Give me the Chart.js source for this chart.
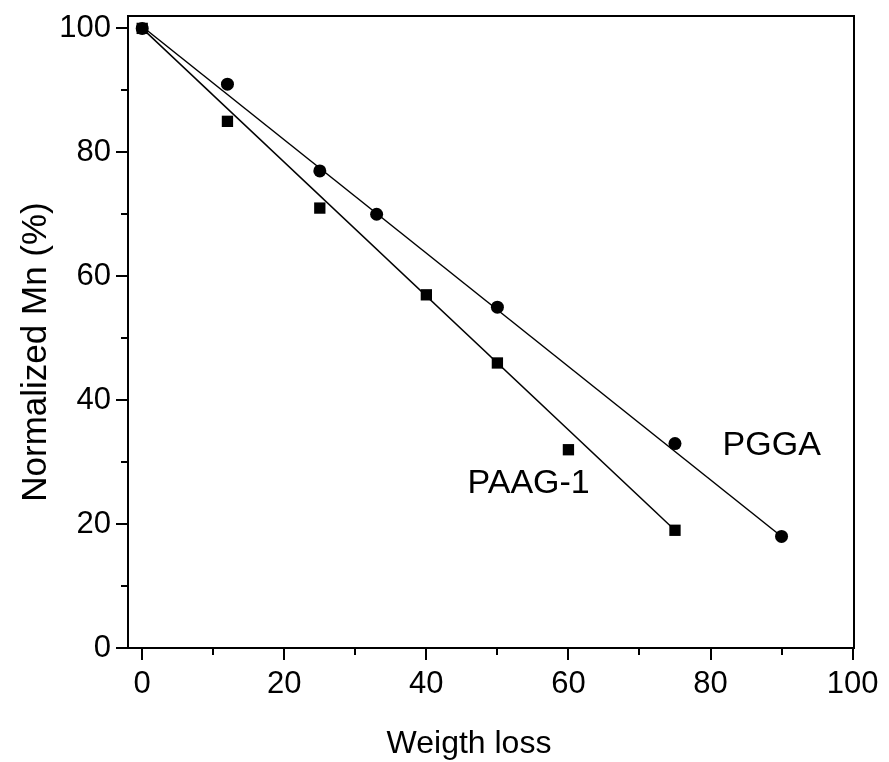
<!DOCTYPE html>
<html>
<head>
<meta charset="utf-8">
<script src="https://cdn.jsdelivr.net/npm/chart.js@4.4.1/dist/chart.umd.min.js"></script>
<style>
  html, body { margin: 0; padding: 0; background: #fff; }
  #wrap { width: 889px; height: 762px; position: relative; }
</style>
</head>
<body>
<div id="wrap"><canvas id="mnChart"></canvas></div>
<script>
// Dados
const weightLossPAAG = [0, 12, 25, 40, 50, 60, 75];
const mnPAAG = [100, 85, 71, 57, 46, 32, 19];
const weightLossPGGA = [0, 12, 25, 33, 50, 75, 90];
const mnPGGA = [100, 91, 77, 70, 55, 33, 18];

// Retas ajustadas (extremos)
const fitPAAGx = [0, 75];
const fitPAAGy = [100, 19];
const fitPGGAx = [0, 90];
const fitPGGAy = [100.3, 18];

// Eixos
const xTicks = [0, 20, 40, 60, 80, 100];
const xMinorTicks = [10, 30, 50, 70, 90];
const yTicks = [0, 20, 40, 60, 80, 100];
const yMinorTicks = [10, 30, 50, 70, 90];

// Rótulos das séries (posição em unidades dos dados)
const seriesLabels = ['PAAG-1', 'PGGA'];
const seriesLabelX = [45.8, 81.7];
const seriesLabelY = [26.5, 32.7];

const FONT = "'Liberation Sans', Arial, sans-serif";

const toPoints = (xs, ys) => xs.map((x, i) => ({ x: x, y: ys[i] }));

// Zera o espaço extra que o Chart.js reserva para os rótulos nas pontas
const noOverhang = s => {
    s.paddingTop = 0;
    s.paddingBottom = 0;
    s.paddingLeft = 0;
    s.paddingRight = 0;
};

// Moldura, ticks, títulos e rótulos
const framePlugin = {
    id: 'frame',
    afterDraw(chart) {
        const { ctx, chartArea: a, scales } = chart;
        const xs = scales.x, ys = scales.y;
        ctx.save();
        ctx.strokeStyle = '#000';
        ctx.lineWidth = 2;
        ctx.strokeRect(a.left, a.top, a.right - a.left, a.bottom - a.top);

        ctx.beginPath();
        xTicks.forEach(v => {
            const px = Math.round(xs.getPixelForValue(v));
            ctx.moveTo(px, a.bottom); ctx.lineTo(px, a.bottom + 12);
        });
        xMinorTicks.forEach(v => {
            const px = Math.round(xs.getPixelForValue(v));
            ctx.moveTo(px, a.bottom); ctx.lineTo(px, a.bottom + 7);
        });
        yTicks.forEach(v => {
            const py = Math.round(ys.getPixelForValue(v));
            ctx.moveTo(a.left, py); ctx.lineTo(a.left - 12, py);
        });
        yMinorTicks.forEach(v => {
            const py = Math.round(ys.getPixelForValue(v));
            ctx.moveTo(a.left, py); ctx.lineTo(a.left - 7, py);
        });
        ctx.stroke();

        ctx.fillStyle = '#000';
        ctx.font = '34px ' + FONT;
        ctx.textAlign = 'left';
        ctx.textBaseline = 'middle';
        seriesLabels.forEach((t, i) => {
            ctx.fillText(t, xs.getPixelForValue(seriesLabelX[i]), ys.getPixelForValue(seriesLabelY[i]));
        });

        // Títulos dos eixos
        ctx.font = '32px ' + FONT;
        ctx.textAlign = 'center';
        ctx.textBaseline = 'alphabetic';
        ctx.fillText('Weigth loss', 469, 753);

        ctx.save();
        ctx.translate(46, 352);
        ctx.rotate(-Math.PI / 2);
        ctx.font = '35px ' + FONT;
        ctx.fillText('Normalized Mn (%)', 0, 0);
        ctx.restore();

        ctx.restore();
    }
};

const ctx = document.getElementById('mnChart').getContext('2d');
new Chart(ctx, {
    type: 'scatter',
    data: {
        datasets: [
            {
                label: 'PAAG-1',
                data: toPoints(weightLossPAAG, mnPAAG),
                pointStyle: 'rect',
                pointRadius: 8,
                backgroundColor: '#000',
                borderColor: '#000',
                borderWidth: 0,
                showLine: false
            },
            {
                label: 'PGGA',
                data: toPoints(weightLossPGGA, mnPGGA),
                pointStyle: 'circle',
                pointRadius: 6.5,
                backgroundColor: '#000',
                borderColor: '#000',
                borderWidth: 0,
                showLine: false
            },
            {
                label: 'PAAG-1 fit',
                data: toPoints(fitPAAGx, fitPAAGy),
                showLine: true,
                pointRadius: 0,
                borderColor: '#000',
                borderWidth: 1.5
            },
            {
                label: 'PGGA fit',
                data: toPoints(fitPGGAx, fitPGGAy),
                showLine: true,
                pointRadius: 0,
                borderColor: '#000',
                borderWidth: 1.5
            }
        ]
    },
    options: {
        responsive: true,
        maintainAspectRatio: false,
        animation: false,
        layout: { padding: { left: 0, top: 16, right: 35, bottom: 0 } },
        plugins: {
            legend: { display: false },
            tooltip: { enabled: false }
        },
        scales: {
            x: {
                type: 'linear',
                min: -2,
                max: 100.2,
                afterBuildTicks: s => { s.ticks = xTicks.map(v => ({ value: v })); },
                afterFit: s => { s.height = 114; noOverhang(s); },
                grid: { display: false, drawTicks: false },
                border: { display: false },
                ticks: {
                    color: '#000',
                    padding: 18,
                    maxRotation: 0,
                    font: { family: FONT, size: 31 }
                }
            },
            y: {
                type: 'linear',
                min: 0,
                max: 102,
                afterBuildTicks: s => { s.ticks = yTicks.map(v => ({ value: v })); },
                afterFit: s => { s.width = 128; noOverhang(s); },
                grid: { display: false, drawTicks: false },
                border: { display: false },
                ticks: {
                    color: '#000',
                    padding: 17,
                    font: { family: FONT, size: 31 }
                }
            }
        }
    },
    plugins: [framePlugin]
});
</script>
</body>
</html>
